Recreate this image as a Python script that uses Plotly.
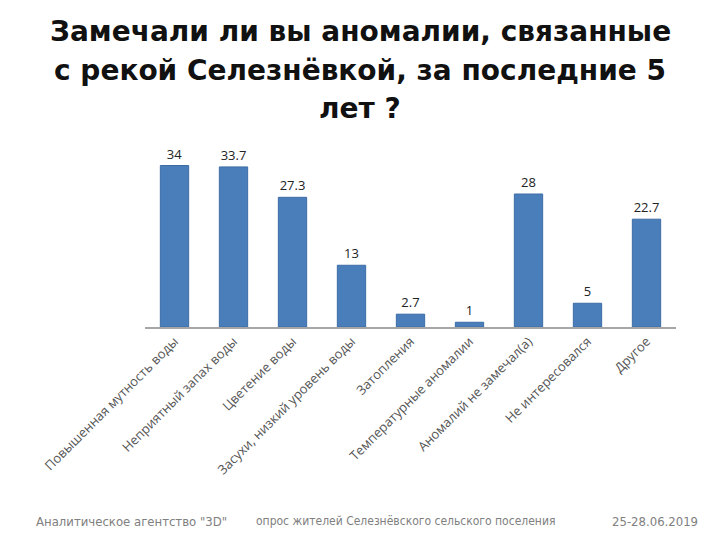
import plotly.graph_objects as go

categories = [
    "Повышенная мутность воды",
    "Неприятный запах воды",
    "Цветение воды",
    "Засухи, низкий уровень воды",
    "Затопления",
    "Температурные аномалии",
    "Аномалий не замечал(а)",
    "Не интересовался",
    "Другое",
]
values = [34, 33.7, 27.3, 13, 2.7, 1, 28, 5, 22.7]
value_labels = ["34", "33.7", "27.3", "13", "2.7", "1", "28", "5", "22.7"]

title_lines = [
    "Замечали ли вы аномалии, связанные",
    "с рекой Селезнёвкой, за последние 5",
    "лет ?",
]
footer = [
    "Аналитическое агентство \"3D\"",
    "опрос жителей Селезнёвского сельского поселения",
    "25-28.06.2019",
]

fig = go.Figure()
fig.add_trace(go.Bar(
    x=categories,
    y=values,
    text=value_labels,
    textposition="outside",
    textfont=dict(family="Open Sans, DejaVu Sans, sans-serif", size=13, color="#222222"),
    cliponaxis=False,
    marker=dict(color="#4a7ebb", line=dict(color="#3d6ca5", width=1)),
    width=0.48,
))

W, H = 720, 540
x0, x1 = 145, 676
y_base, y_top = 327, 137
fig.update_layout(
    width=W, height=H,
    margin=dict(l=x0, r=W - x1, t=y_top, b=H - y_base),
    paper_bgcolor="white",
    plot_bgcolor="white",
    showlegend=False,
    xaxis=dict(
        showline=True, linecolor="#a6a6a6", linewidth=1.5,
        ticks="", tickangle=-45,
        tickfont=dict(family="Open Sans, DejaVu Sans, sans-serif", size=13, color="#555555"),
        showgrid=False,
    ),
    yaxis=dict(range=[0, 40], visible=False, showgrid=False),
    bargap=0.52,
)

def px_x(xx):
    return (xx - x0) / (x1 - x0)

def px_y(yy):
    return (y_base - yy) / (y_base - y_top)

title_y = [31, 70, 108]
for txt, yy in zip(title_lines, title_y):
    fig.add_annotation(
        text="<b>" + txt + "</b>", xref="paper", yref="paper",
        x=px_x(360), y=px_y(yy),
        xanchor="center", yanchor="middle", showarrow=False,
        font=dict(family="DejaVu Sans, sans-serif", size=28, color="#111111"),
    )

footer_pos = [(34, "left", 13), (405, "center", 12), (700, "right", 13)]
for txt, (xx, anc, fs) in zip(footer, footer_pos):
    fig.add_annotation(
        text=txt, xref="paper", yref="paper",
        x=px_x(xx), y=px_y(521),
        xanchor=anc, yanchor="middle", showarrow=False,
        font=dict(family="Liberation Sans Narrow, DejaVu Sans Condensed, sans-serif", size=fs, color="#808080"),
    )

fig.write_html("out.html")
